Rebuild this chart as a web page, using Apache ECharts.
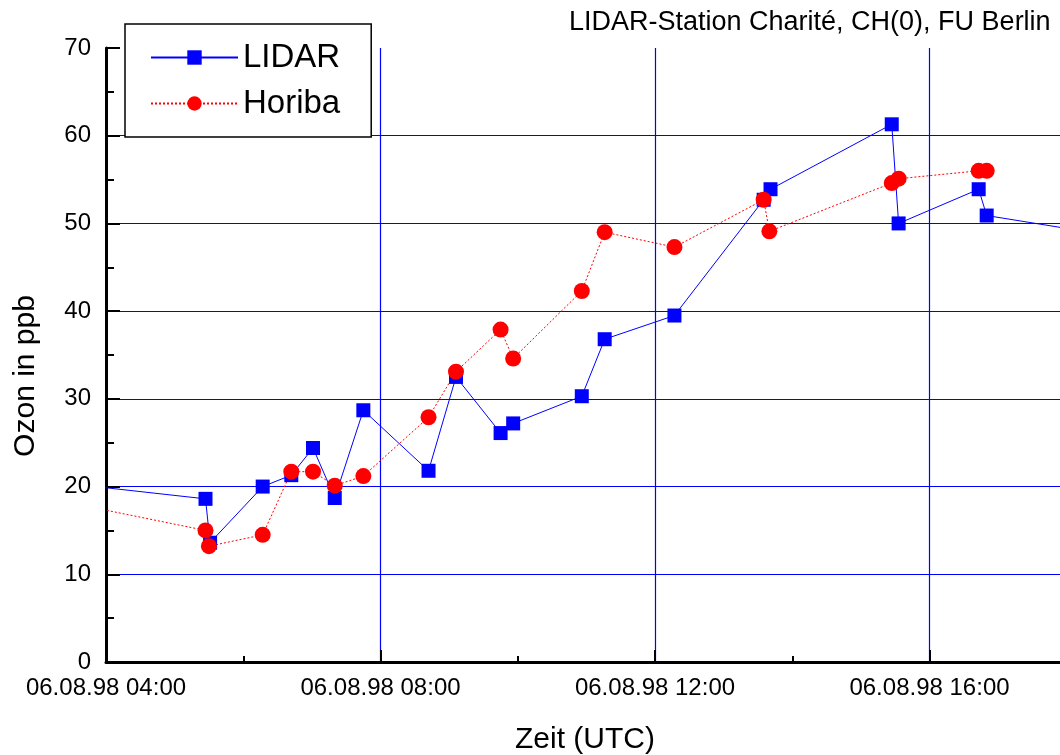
<!DOCTYPE html>
<html>
<head>
<meta charset="utf-8">
<script src="https://cdn.jsdelivr.net/npm/echarts@6/dist/echarts.min.js"></script>
<style>
html, body { margin: 0; padding: 0; overflow: hidden; background: #fff; width: 1060px; height: 755px; }
#chart { width: 1240px; height: 755px; }
</style>
</head>
<body>
<div id="chart"></div>
<script>
// Data (times on 06.08.98, UTC)
const lidarTimes = ['03:30','05:27','05:31','06:17','06:42','07:01','07:20','07:45','08:42','09:06','09:45','09:56','10:56','11:16','12:17','13:35','13:41','15:27','15:33','16:43','16:50','18:30'];
const lidarValues = [20.3,18.6,13.6,20.0,21.3,24.4,18.7,28.7,21.8,32.5,26.1,27.2,30.3,36.8,39.5,52.7,53.9,61.3,50.0,53.9,50.9,48.8];
const horibaTimes = ['03:30','05:27','05:30','06:17','06:42','07:01','07:20','07:45','08:42','09:06','09:45','09:56','10:56','11:16','12:17','13:35','13:40','15:27','15:33','16:43','16:50'];
const horibaValues = [18.1,15.0,13.2,14.5,21.7,21.7,20.1,21.2,27.9,33.1,37.9,34.6,42.3,49.0,47.3,52.7,49.1,54.6,55.1,56.0,56.0];
const datePrefix = '06.08.98';
const titleText = 'LIDAR-Station Charité, CH(0), FU Berlin';
const yAxisTitle = 'Ozon in ppb';
const xAxisTitle = 'Zeit (UTC)';

function toHours(t) { const p = t.split(':'); return +p[0] + (+p[1]) / 60; }
function pairs(times, vals) { return times.map((t, i) => [toHours(t), vals[i]]); }
function pad(n) { return (n < 10 ? '0' : '') + n; }

const FONT = 'Liberation Sans, Arial, sans-serif';
const chart = echarts.init(document.getElementById('chart'), null, { renderer: 'canvas', width: 1240, height: 755 });
chart.setOption({
  animation: false,
  backgroundColor: '#ffffff',
  title: {
    text: titleText, left: 569, top: 9, padding: 0,
    textStyle: { fontFamily: FONT, fontSize: 27, fontWeight: 'normal', color: '#000' }
  },
  legend: {
    orient: 'vertical', left: 125, top: 24,
    backgroundColor: '#fff', borderColor: '#000', borderWidth: 1.5,
    padding: [17, 31, 17, 25],
    itemWidth: 87, itemHeight: 18, itemGap: 13, itemTextGap: 12,
    textStyle: { fontFamily: FONT, fontSize: 33, lineHeight: 32, color: '#000' },
    data: ['LIDAR', 'Horiba']
  },
  grid: { left: 106, top: 48, right: 36, bottom: 93, containLabel: false, outerBoundsMode: 'none' },
  xAxis: {
    type: 'value', min: 4, max: 20, interval: 4,
    axisLine: { show: true, onZero: false, lineStyle: { color: '#000', width: 3 } },
    axisTick: { show: true, inside: true, length: 12, lineStyle: { color: '#000', width: 2 } },
    minorTick: { show: true, splitNumber: 2, length: 6, lineStyle: { color: '#000', width: 2 } },
    splitLine: { show: true, showMinLine: false, lineStyle: { color: '#0000ff', width: 1.2 } },
    axisLabel: { margin: 14, fontFamily: FONT, fontSize: 24, color: '#000',
      formatter: v => datePrefix + ' ' + pad(v) + ':00' }
  },
  yAxis: {
    type: 'value', min: 0, max: 70, interval: 10,
    axisLine: { show: true, lineStyle: { color: '#000', width: 3 } },
    axisTick: { show: true, inside: true, length: 14, lineStyle: { color: '#000', width: 2 } },
    minorTick: { show: true, splitNumber: 2, length: 8, lineStyle: { color: '#000', width: 2 } },
    splitLine: { show: true, showMaxLine: false, showMinLine: false, lineStyle: { color: '#0000ff', width: 1.2 } },
    axisLabel: { margin: 15, fontFamily: FONT, fontSize: 24, color: '#000' }
  },
  graphic: [
    { type: 'text', x: 585, y: 740, style: { text: xAxisTitle, fontFamily: FONT, fontSize: 30, fill: '#000', align: 'center', verticalAlign: 'middle', textAlign: 'center', textVerticalAlign: 'middle' } },
    { type: 'text', x: 26, y: 376, rotation: Math.PI / 2, style: { text: yAxisTitle, fontFamily: FONT, fontSize: 30, fill: '#000', align: 'center', verticalAlign: 'middle', textAlign: 'center', textVerticalAlign: 'middle' } }
  ],
  series: [
    {
      name: 'LIDAR', type: 'line', data: pairs(lidarTimes, lidarValues),
      clip: true, symbol: 'rect', symbolSize: 14, showAllSymbol: true,
      itemStyle: { color: '#0000ff' },
      lineStyle: { color: '#0000ff', width: 1, type: 'solid' }
    },
    {
      name: 'Horiba', type: 'line', data: pairs(horibaTimes, horibaValues),
      clip: true, symbol: 'circle', symbolSize: 16, showAllSymbol: true,
      itemStyle: { color: '#ff0000' },
      lineStyle: { color: '#ff0000', width: 1, type: [2, 2] }
    }
  ]
});
</script>
</body>
</html>
